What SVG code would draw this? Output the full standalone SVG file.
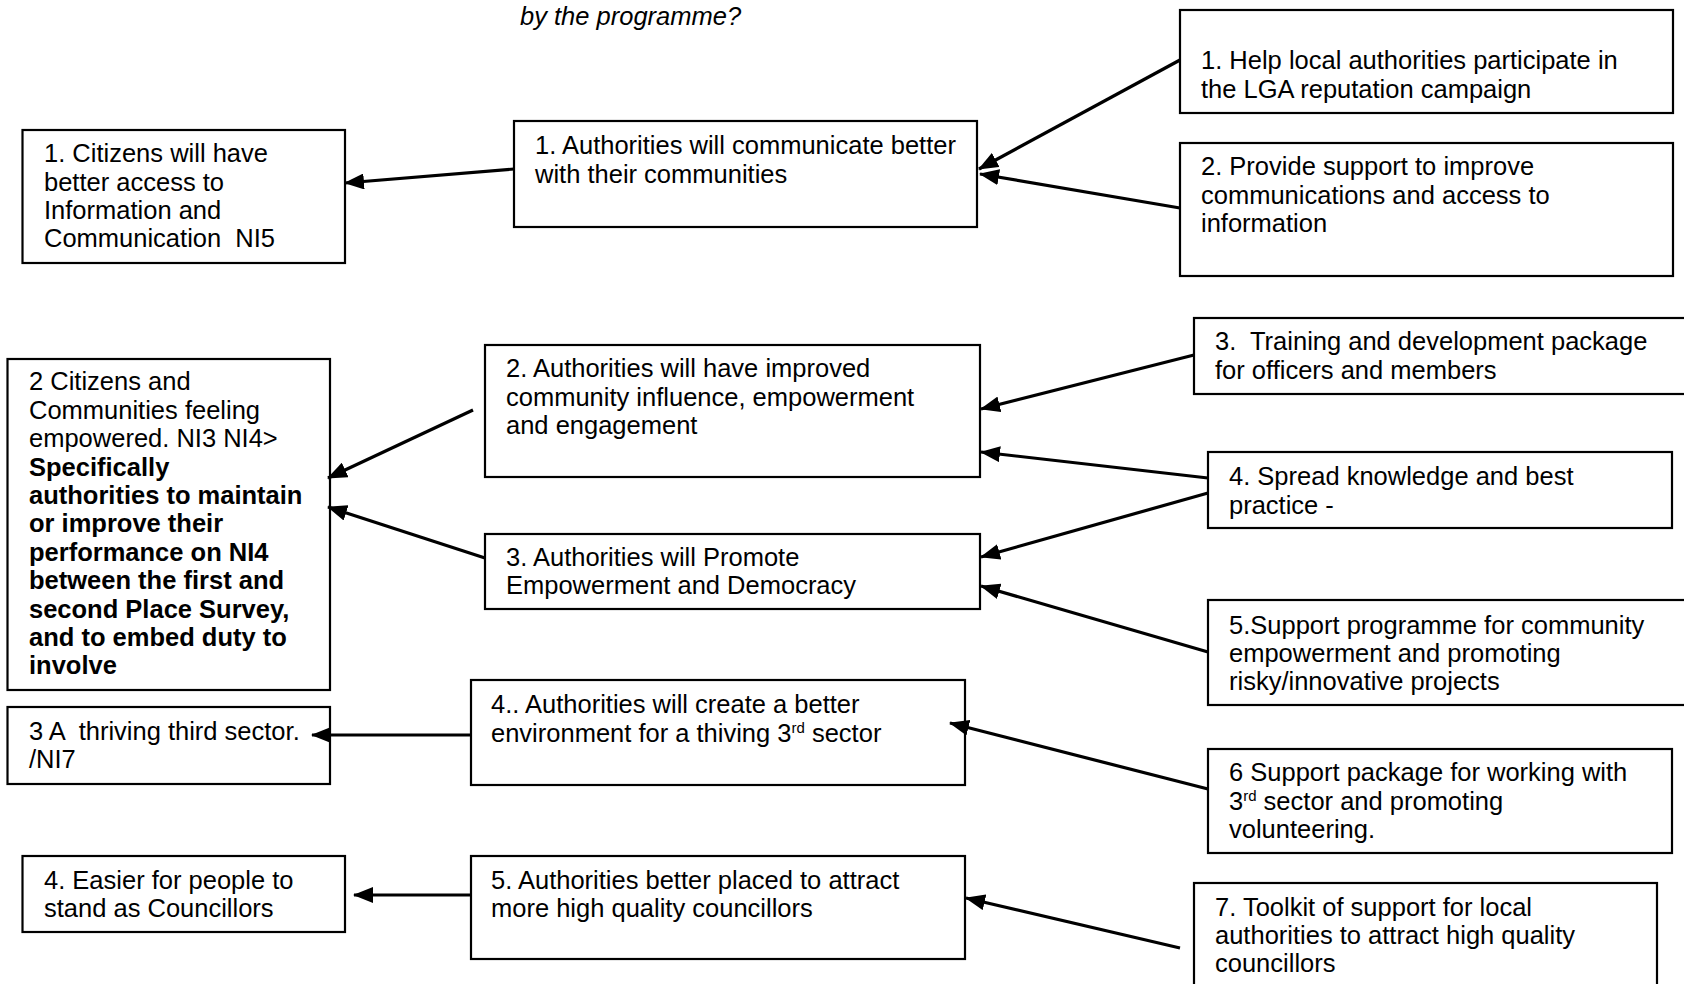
<svg xmlns="http://www.w3.org/2000/svg" width="1684" height="984" viewBox="0 0 1684 984">
<style>
  .box{fill:#fff;stroke:#000;stroke-width:2.2}
  text{font-family:"Liberation Sans",Arial,sans-serif;font-size:25.5px;fill:#000}
  .b{font-weight:bold}
  .it{font-style:italic}
  .sup{font-size:15px}
  .conn line{stroke:#000;stroke-width:3.2;marker-end:url(#ah)}
</style>
<defs>
  <marker id="ah" markerUnits="userSpaceOnUse" markerWidth="20" markerHeight="16" refX="19" refY="8" orient="auto">
    <path d="M0,0 L20,8 L0,16 z" fill="#000"/>
  </marker>
</defs>
<rect width="1684" height="984" fill="#fff"/>
<text class="it" x="520" y="25">by the programme?</text>

<g id="a1"><rect class="box" x="22.5" y="130" width="322.5" height="133"/>
<text x="44" y="162">1. Citizens will have</text>
<text x="44" y="191">better access to</text>
<text x="44" y="219">Information and</text>
<text x="44" y="247" xml:space="preserve">Communication  NI5</text></g>

<g id="b1"><rect class="box" x="514" y="121" width="463" height="106"/>
<text x="535" y="154">1. Authorities will communicate better</text>
<text x="535" y="183">with their communities</text></g>

<g id="c1"><rect class="box" x="1180" y="10" width="493" height="103"/>
<text x="1201" y="69">1. Help local authorities participate in</text>
<text x="1201" y="98">the LGA reputation campaign</text></g>

<g id="c2"><rect class="box" x="1180" y="143" width="493" height="133"/>
<text x="1201" y="175">2. Provide support to improve</text>
<text x="1201" y="204">communications and access to</text>
<text x="1201" y="232">information</text></g>

<g id="a2"><rect class="box" x="7.5" y="359" width="322.5" height="331"/>
<text x="29" y="390">2 Citizens and</text>
<text x="29" y="419">Communities feeling</text>
<text x="29" y="447">empowered. NI3 NI4&gt;</text>
<text class="b" x="29" y="476">Specifically</text>
<text class="b" x="29" y="504">authorities to maintain</text>
<text class="b" x="29" y="532">or improve their</text>
<text class="b" x="29" y="561">performance on NI4</text>
<text class="b" x="29" y="589">between the first and</text>
<text class="b" x="29" y="618">second Place Survey,</text>
<text class="b" x="29" y="646">and to embed duty to</text>
<text class="b" x="29" y="674">involve</text></g>

<g id="b2"><rect class="box" x="485" y="345" width="495" height="132"/>
<text x="506" y="377">2. Authorities will have improved</text>
<text x="506" y="406">community influence, empowerment</text>
<text x="506" y="434">and engagement</text></g>

<g id="b3"><rect class="box" x="485" y="534" width="495" height="75"/>
<text x="506" y="566">3. Authorities will Promote</text>
<text x="506" y="594">Empowerment and Democracy</text></g>

<g id="c3"><rect class="box" x="1194" y="318" width="500" height="76"/>
<text x="1215" y="350" xml:space="preserve">3.  Training and development package</text>
<text x="1215" y="379">for officers and members</text></g>

<g id="c4"><rect class="box" x="1208" y="452" width="464" height="76"/>
<text x="1229" y="485">4. Spread knowledge and best</text>
<text x="1229" y="514">practice -</text></g>

<g id="c5"><rect class="box" x="1208" y="600" width="490" height="105"/>
<text x="1229" y="634">5.Support programme for community</text>
<text x="1229" y="662">empowerment and promoting</text>
<text x="1229" y="690">risky/innovative projects</text></g>

<g id="a3"><rect class="box" x="7.5" y="707" width="322.5" height="77"/>
<text x="29" y="740" xml:space="preserve">3 A  thriving third sector.</text>
<text x="29" y="768">/NI7</text></g>

<g id="b4"><rect class="box" x="471" y="680" width="494" height="105"/>
<text x="491" y="713">4.. Authorities will create a better</text>
<text x="491" y="742">environment for a thiving 3<tspan class="sup" dy="-9">rd</tspan><tspan dy="9"> sector</tspan></text></g>

<g id="c6"><rect class="box" x="1208" y="749" width="464" height="104"/>
<text x="1229" y="781">6 Support package for working with</text>
<text x="1229" y="810">3<tspan class="sup" dy="-9">rd</tspan><tspan dy="9"> sector and promoting</tspan></text>
<text x="1229" y="838">volunteering.</text></g>

<g id="a4"><rect class="box" x="22.5" y="856" width="322.5" height="76"/>
<text x="44" y="889">4. Easier for people to</text>
<text x="44" y="917">stand as Councillors</text></g>

<g id="b5"><rect class="box" x="471" y="856" width="494" height="103"/>
<text x="491" y="889">5. Authorities better placed to attract</text>
<text x="491" y="917">more high quality councillors</text></g>

<g id="c7"><rect class="box" x="1194" y="883" width="463" height="110"/>
<text x="1215" y="916">7. Toolkit of support for local</text>
<text x="1215" y="944">authorities to attract high quality</text>
<text x="1215" y="972">councillors</text></g>

<g id="connectors" class="conn">
  <line x1="514" y1="169" x2="345" y2="183"/>
  <line x1="1180" y1="60" x2="979" y2="169"/>
  <line x1="1180" y1="208" x2="980" y2="174"/>
  <line x1="473" y1="410" x2="328" y2="478"/>
  <line x1="485" y1="558" x2="328" y2="507"/>
  <line x1="1194" y1="355" x2="981" y2="409"/>
  <line x1="1208" y1="478" x2="981" y2="452"/>
  <line x1="1208" y1="493" x2="981" y2="557"/>
  <line x1="1208" y1="652" x2="981" y2="586"/>
  <line x1="471" y1="735" x2="312" y2="735"/>
  <line x1="1208" y1="789" x2="950" y2="723"/>
  <line x1="471" y1="895" x2="354" y2="895"/>
  <line x1="1180" y1="948" x2="966" y2="898"/>
</g>
</svg>
